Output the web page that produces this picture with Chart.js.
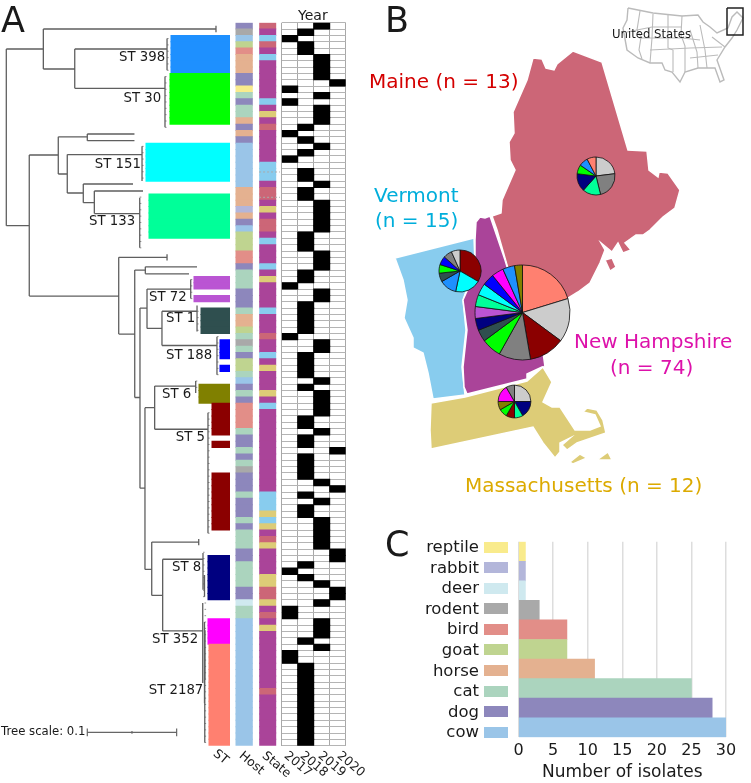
<!DOCTYPE html>
<html>
<head>
<meta charset="utf-8">
<title>Isolates by ST, host, state and year</title>
<script src="https://cdn.jsdelivr.net/npm/chart.js@4/dist/chart.umd.min.js"></script>
<style>
  html, body { margin: 0; padding: 0; background: #fff; }
  #page { position: relative; width: 751px; height: 783px; overflow: hidden; font-family: "DejaVu Sans", sans-serif; }
  #page canvas { position: absolute; }
  .lbl { position: absolute; white-space: nowrap; line-height: 1; color: #1a1a1a; }
</style>
</head>
<body>
<div id="page"></div>
<script>
// Host categories, panel C
const hostNames = ['reptile', 'rabbit', 'deer', 'rodent', 'bird', 'goat', 'horse', 'cat', 'dog', 'cow'];
const hostCodes = ['p', 'a', 'e', 'r', 'b', 'g', 'h', 'c', 'd', 'w'];
const hostCounts = [1, 1, 1, 3, 7, 7, 11, 25, 28, 30];
const hostColors = ['#f9eb8c', '#b3b6da', '#cfe9ef', '#a9a9a9', '#e28e88', '#bfd490', '#e4b190', '#abd4be', '#8d87bc', '#9ac5e8'];
const isolateTicks = [0, 5, 10, 15, 20, 25, 30];

// Metadata strips, run length per isolate from top to bottom of the tree
const hostRuns = ['d',1,'r',1,'w',1,'g',1,'b',1,'h',3,'d',2,'p',1,'c',1,'d',1,'c',2,'h',1,'d',1,'h',1,'d',1,'w',7,'h',3,'a',1,'h',1,'d',1,'w',1,'g',3,'b',2,
  'd',1,'c',3,'d',3,'c',1,'h',2,'g',1,'c',1,'r',1,'c',1,'d',1,'g',2,'c',1,'w',1,'d',1,'c',1,'d',1,'b',4,'c',1,'d',2,'c',1,'d',1,'c',1,'r',1,'d',3,'c',1,'d',3,
  'c',1,'d',1,'c',3,'d',2,'c',4,'d',2,'e',1,'c',2,'w',20];
const stateRuns = ['M',1,'N',1,'V',1,'M',1,'N',1,'V',1,'N',6,'V',1,'N',1,'A',1,'N',1,'M',1,'N',5,'V',3,'N',1,'M',2,'N',1,'A',1,'N',1,'M',2,'N',1,'V',1,'N',3,
  'V',1,'N',1,'A',1,'N',4,'V',1,'N',3,'M',1,'N',2,'V',1,'N',1,'A',1,'N',3,'A',1,'N',1,'V',1,'N',13,'V',3,'A',1,'V',1,'A',1,'N',1,'M',1,'A',1,'N',4,'A',2,'M',2,
  'A',1,'N',1,'M',1,'N',1,'A',1,'N',9,'M',1,'N',8];
const yearRuns = [2,1,1,1,0,1,1,2,2,4,3,1,0,1,2,1,0,1,2,3,1,1,0,1,1,1,2,1,1,1,0,1,-1,1,1,2,2,1,1,2,2,5,1,3,2,3,1,2,0,1,2,2,1,5,0,1,2,2,1,4,2,1,1,1,2,4,1,2,2,1,
  1,2,3,1,1,4,2,1,3,1,1,1,2,1,1,2,2,5,3,2,1,1,0,1,1,1,2,1,3,2,2,1,0,2,2,3,1,1,2,1,0,2,1,13];
const stRuns = [null,2,'398',6,'30',8,null,3,'151',6,null,2,'133',7,null,6,'72',2,null,1,'72',1,null,1,'1',4,null,1,'188',3,null,1,'188',1,null,2,'6',3,'5',5,null,1,'5',1,
  null,4,'5',9,null,4,'8',7,null,3,'352',4,'2187',16];

const stateCodes = ['M', 'N', 'V', 'A'];
const stateColors = ['#cc6677', '#aa4499', '#88ccee', '#ddcc77'];
const yearLabels = ['2017', '2018', '2019', '2020'];

// Sequence types, the band starts where the clade tips end
const stNames = ['398', '30', '151', '133', '72', '1', '188', '6', '5', '8', '352', '2187'];
const stColors = ['#1e90ff', '#00ff00', '#00ffff', '#00ff99', '#ba55d3', '#2f4f4f', '#0000ff', '#808000', '#8b0000', '#000080', '#ff00ff', '#ff8070'];
const stBandStart = [171, 170, 146, 149, 194, 201, 220, 199, 212, 208, 208, 209];
const stLabelX = [119, 123.5, 94.7, 89, 149, 166, 166, 162, 175.7, 172, 152, 148.7];
const stLabelY = [56.7, 98, 164, 221, 297, 318, 354.7, 394, 437, 567, 639, 690];

// Phylogeny, x in thousandths of tree distance, y in isolate rows
const treeV = [[0,3.65,31.5],[41.6,0.49,6.8],[235.6,0,1],[76.9,3.65,9.84],[180.6,2,7],[178.3,8,16],
  [25.8,20.36,42.6],[58.4,17.5,23.36],[91,17.05,18.1],[68.5,20.3,26.35],[152.5,19,24.46],[86.5,24.93,27.88],[98.9,26.04,29.6],[149.9,27.1,35],
  [126.3,36.5,48.6],[180.6,36,37],[144.3,38.5,58.6],[156.2,38,39.1],[150.2,44.5,72.9],[158.1,41.5,47.7],[207.2,40,43],[174.9,45,50.4],[214.3,44.1,48.2],[236.7,49,55],
  [155.8,60.2,85.7],[166.7,56.8,63.6],[212.8,56,57.9],[226.6,61,80],[163.4,81.4,89.8],[216.2,80.9,81.9],[175.7,84.1,95.4],[221,83.1,88.9],[222.7,86.6,90],
  [220.7,91,103.6],[222.7,94,106.8],[223.3,95.3,103.1],[223,103,113]];
const treeH = [[3.65,0,41.6],[31.5,0,25.8],[0.49,41.6,235.6],[6.8,41.6,76.9],[3.65,76.9,180.6],[9.84,76.9,178.3],
  [20.36,25.8,58.4],[42.6,25.8,126.3],[17.5,58.4,91],[23.36,58.4,68.5],[17.05,91,144],[18.1,91,144],[20.3,68.5,152.5],[26.35,68.5,86.5],[24.93,86.5,142.4],[27.88,86.5,98.9],[26.04,98.9,153.6],[29.6,98.9,149.9],
  [36.5,126.3,180.6],[48.6,126.3,144.3],[38.5,144.3,156.2],[58.6,144.3,150.2],[38,156.2,214.3],[39.1,156.2,205.3],[44.5,150.2,158.1],[72.9,150.2,155.8],[41.5,158.1,207.2],[47.7,158.1,174.9],
  [45,174.9,214.3],[50.4,174.9,236.7],[60.2,155.8,166.7],[85.7,155.8,163.4],[56.8,166.7,212.8],[63.6,166.7,226.6],[81.4,163.4,216.2],[89.8,163.4,175.7],[84.1,175.7,220.7],[95.4,175.7,220.7]];
const tipClades = [[180.6,2,7],[178.3,8,16],[152.5,19,24],[149.9,27,35],[207.2,40,43],[214.3,45,48],[236.7,49,55],[212.8,56,57],[226.6,61,80],[221,83,90],[222.7,91,113]];
const scaleBarH = [[111.4,91,191.4]];
const scaleBarV = [[91,110.8,112],[141.2,111.2,111.6],[191.4,110.8,112]];

// ST mix per state, clockwise from the top
const nhCounts = [15, 11, 9, 8, 5, 3, 3, 3, 3, 3, 3, 3, 3, 2];
const nhColors = ['#ff8070', '#cccccc', '#8b0000', '#808080', '#00ff00', '#2f4f4f', '#000080', '#ba55d3', '#00ff99', '#00ffff', '#0000ff', '#ff00ff', '#1e90ff', '#808000'];
const vtCounts = [5, 3, 2, 1, 1, 1, 1, 1];
const vtColors = ['#8b0000', '#00ffff', '#1e90ff', '#2f4f4f', '#00ff00', '#0000ff', '#808080', '#cccccc'];
const meCounts = [3, 3, 2, 2, 1, 1, 1];
const meColors = ['#cccccc', '#808080', '#00ff99', '#000080', '#00ff00', '#1e90ff', '#ff8070'];
const maCounts = [3, 2, 1, 1, 1, 1, 2, 1];
const maColors = ['#cccccc', '#000080', '#00ff99', '#8b0000', '#00ff00', '#808000', '#ff00ff', '#808080'];

// Map outlines, in map units of the figure
const maineShape = [[533,58],[542,59],[546,68],[554,70],[557,64],[573,51],[602,62],[628,150],[647,151],[649,170],[658,177],[659,172],[668,173],[680,190],[675,208],[663,217],[650,230],[643,235],[636,235],[625,243],[631,250],[623,253],[618,243],[612,252],[601,243],[605,250],[600,263],[590,283],[578,292],[568,298],[540,330],[520,310],[507,265],[497,230],[492,216],[501,213],[502,200],[515,170],[510,160],[509,142],[514,133],[513,112],[527,80],[533,58]];
const maineIsland = [[605,260],[612,258],[616,267],[610,271],[605,260]];
const nhShape = [[476,222],[480,217],[485,218],[490,216],[505,260],[520,310],[540,330],[545,367],[542,367],[527,374],[527,379],[467,394],[464,387],[463,367],[467,330],[463,300],[475,273],[475,240],[476,222]];
const vtShape = [[395,258],[474,238],[475,263],[470,280],[463,300],[466,330],[462,367],[465,395],[433,399],[428,373],[423,353],[413,348],[413,338],[404,318],[407,300],[403,280],[395,258]];
const maShape = [[431,403],[465,397],[527,381],[543,367],[552,382],[543,402],[552,407],[560,407],[575,430],[590,430],[600,426],[595,415],[583,412],[587,408],[597,410],[603,420],[606,433],[577,443],[567,450],[562,445],[570,438],[560,443],[560,452],[555,458],[543,443],[533,427],[431,449],[430,430],[431,403]];
const vineyardShape = [[570,462],[580,454],[587,458],[573,464],[570,462]];
const nantucketShape = [[597,460],[608,452],[612,460],[597,460]];
const usBorder = [[628,8],[627,20],[623,28],[627,50],[638,58],[650,63],[662,63],[665,70],[672,72],[680,82],[685,72],[698,68],[715,68],[720,82],[724,80],[717,60],[725,47],[732,38],[737,30],[743,18],[737,12],[732,17],[728,28],[717,33],[710,27],[703,22],[698,15],[682,16],[653,13],[628,8]];
const usStateLines = [
  [[640,11],[637,30],[641,37],[639,50],[642,59]],
  [[653,14],[652,38],[650,63]],
  [[668,15],[668,48],[673,50],[673,72]],
  [[682,16],[681,35],[685,46],[685,72]],
  [[627,32],[652,27],[682,27]],
  [[639,38],[682,38],[700,40]],
  [[650,50],[690,48],[722,47]],
  [[690,30],[697,52],[698,68]],
  [[700,25],[705,50],[707,68]],
  [[712,37],[725,47]],
  [[690,58],[718,55]]
];
const usInsetBox = [[727,8],[743,8],[743,35],[727,35],[727,8]];

const page = document.getElementById('page');
Chart.defaults.font.family = '"DejaVu Sans", sans-serif';
Chart.defaults.animation = false;
Chart.defaults.events = [];
Chart.defaults.plugins.legend.display = false;
Chart.defaults.plugins.tooltip.enabled = false;

function expand(runs) {
    const out = [];
    for (let i = 0; i < runs.length; i += 2) {
        for (let k = 0; k < runs[i + 1]; k++) out.push(runs[i]);
    }
    return out;
}

function addCanvas(left, top, width, height) {
    const canvas = document.createElement('canvas');
    canvas.width = width;
    canvas.height = height;
    canvas.style.left = left + 'px';
    canvas.style.top = top + 'px';
    canvas.style.width = width + 'px';
    canvas.style.height = height + 'px';
    page.appendChild(canvas);
    return canvas;
}

function addLabel(text, x, y, size, color, rotate) {
    const el = document.createElement('div');
    el.className = 'lbl';
    el.textContent = text;
    el.style.left = x + 'px';
    el.style.top = y + 'px';
    el.style.fontSize = size + 'px';
    if (color) el.style.color = color;
    el.style.transform = rotate ? 'rotate(' + rotate + 'deg)' : 'translateY(-50%)';
    el.style.transformOrigin = 'left top';
    page.appendChild(el);
    return el;
}

const hostRows = expand(hostRuns);
const stateRows = expand(stateRuns);
const yearRows = expand(yearRuns);
const stRows = expand(stRuns);
const rowLabels = hostRows.map((_, i) => i);

// Panel A, ST, host and state strips
const rowTop = 22.7, rowBottom = 745.7;
const hostEdges = [236, 252.3];
const stateEdges = [259.7, 275.7];
const stRight = 229.5;

new Chart(addCanvas(0, 0, 281, 783), {
    type: 'bar',
    data: {
        labels: rowLabels,
        datasets: [
            {
                data: stRows.map(s => s === null ? null : [stBandStart[stNames.indexOf(s)], stRight]),
                backgroundColor: stRows.map(s => stColors[stNames.indexOf(s)]),
                inflateAmount: 0.5
            },
            {
                data: rowLabels.map(() => hostEdges),
                backgroundColor: hostRows.map(h => hostColors[hostCodes.indexOf(h)]),
                inflateAmount: 0.5
            },
            {
                data: rowLabels.map(() => stateEdges),
                backgroundColor: stateRows.map(s => stateColors[stateCodes.indexOf(s)]),
                inflateAmount: 0.5
            }
        ]
    },
    options: {
        responsive: false,
        indexAxis: 'y',
        layout: { padding: { top: rowTop, bottom: 783 - rowBottom } },
        datasets: { bar: { grouped: false, barPercentage: 1, categoryPercentage: 1 } },
        scales: {
            x: { type: 'linear', display: false, min: 0, max: 281 },
            y: { display: false }
        }
    }
});

// Panel A, year matrix with one column per year, the cell lines are the axis grid
new Chart(addCanvas(280, 0, 68, 783), {
    type: 'bar',
    data: {
        labels: rowLabels,
        datasets: [{
            data: yearRows.map(y => y < 0 ? null : [y, y + 1]),
            backgroundColor: '#000000',
            inflateAmount: 0.5
        }]
    },
    options: {
        responsive: false,
        indexAxis: 'y',
        layout: { padding: { left: 1.7, right: 2.3, top: rowTop, bottom: 783 - rowBottom } },
        datasets: { bar: { barPercentage: 1, categoryPercentage: 1 } },
        scales: {
            x: {
                type: 'linear',
                min: 0,
                max: 4,
                border: { display: false },
                grid: { color: '#a8a8a8', lineWidth: 1, drawTicks: false },
                ticks: { display: false, stepSize: 1 }
            },
            y: {
                border: { display: false },
                grid: { color: '#b4b4b4', lineWidth: 1, drawTicks: false, offset: true },
                ticks: { display: false, autoSkip: false }
            }
        }
    }
});

// Panel A, tree drawn on top of the strips
function toPath(vertical, horizontal) {
    const pts = [];
    vertical.forEach(v => pts.push({ x: v[0], y: v[1] }, { x: v[0], y: v[2] }, { x: NaN, y: NaN }));
    horizontal.forEach(h => pts.push({ x: h[1], y: h[0] }, { x: h[2], y: h[0] }, { x: NaN, y: NaN }));
    return pts;
}
const tipTicks = [];
tipClades.forEach(c => {
    for (let r = c[1]; r <= c[2]; r++) tipTicks.push([r, c[0], c[0] + 1.8]);
});

new Chart(addCanvas(0, 0, 351, 783), {
    type: 'scatter',
    data: {
        datasets: [
            { data: toPath(treeV, treeH), borderColor: '#5f5f5f', borderWidth: 1.3 },
            { data: toPath([], tipTicks), borderColor: '#777777', borderWidth: 0.8 },
            { data: toPath(scaleBarV, scaleBarH), borderColor: '#666666', borderWidth: 1.2 },
            { data: toPath([], [[23.04, 284, 307.5], [27.03, 284, 307.5]]), borderColor: '#aaaaaa', borderWidth: 1, borderDash: [2, 2] }
        ]
    },
    options: {
        responsive: false,
        layout: { padding: { top: rowTop, bottom: 783 - rowBottom } },
        datasets: { scatter: { showLine: true, spanGaps: false, pointRadius: 0 } },
        scales: {
            x: { type: 'linear', display: false, min: -7.08, max: 387.3 },
            y: { type: 'linear', display: false, reverse: true, min: -0.5, max: 113.5 }
        }
    }
});

// Panel B, map
function shapeSet(points, color) {
    return {
        data: points.map(p => ({ x: p[0], y: p[1] })),
        backgroundColor: color,
        borderColor: '#ffffff',
        borderWidth: 1.5,
        fill: 'shape'
    };
}
function lineSet(points, color, width) {
    return { data: points.map(p => ({ x: p[0], y: p[1] })), borderColor: color, borderWidth: width, fill: false };
}

new Chart(addCanvas(370, 0, 381, 520), {
    type: 'scatter',
    data: {
        datasets: [
            lineSet(usInsetBox, '#222222', 1.5),
            lineSet(usBorder, '#bbbbbb', 1.4),
            ...usStateLines.map(l => lineSet(l, '#bbbbbb', 1.1)),
            shapeSet(maShape, stateColors[3]),
            shapeSet(vineyardShape, stateColors[3]),
            shapeSet(nantucketShape, stateColors[3]),
            shapeSet(nhShape, stateColors[1]),
            shapeSet(vtShape, stateColors[2]),
            shapeSet(maineIsland, stateColors[0]),
            shapeSet(maineShape, stateColors[0])
        ]
    },
    options: {
        responsive: false,
        datasets: { scatter: { showLine: true, pointRadius: 0, tension: 0 } },
        scales: {
            x: { type: 'linear', display: false, min: 370, max: 751 },
            y: { type: 'linear', display: false, reverse: true, min: 0, max: 520 }
        }
    }
});

function addPie(cx, cy, r, counts, colors) {
    const size = Math.ceil(r * 2 + 4);
    new Chart(addCanvas(cx - size / 2, cy - size / 2, size, size), {
        type: 'pie',
        data: { datasets: [{ data: counts, backgroundColor: colors, borderColor: '#111111', borderWidth: 0.8, borderAlign: 'center' }] },
        options: { responsive: false, radius: r }
    });
}
addPie(522, 312, 47.5, nhCounts, nhColors);
addPie(459.7, 270.7, 21, vtCounts, vtColors);
addPie(596.3, 175.7, 19, meCounts, meColors);
addPie(514, 401.7, 16.4, maCounts, maColors);

// Panel C, bars
new Chart(addCanvas(380, 520, 371, 263), {
    type: 'bar',
    data: {
        labels: hostNames,
        datasets: [{ data: hostCounts, backgroundColor: hostColors, barPercentage: 1, categoryPercentage: 1 }]
    },
    options: {
        responsive: false,
        indexAxis: 'y',
        layout: { padding: { left: 138.5, right: 25, top: 21.7, bottom: 0 } },
        scales: {
            y: { display: false },
            x: {
                type: 'linear',
                min: 0,
                max: 30,
                afterBuildTicks: axis => { axis.ticks = isolateTicks.map(v => ({ value: v })); },
                afterFit: axis => { axis.height = 45.7; },
                border: { display: false },
                grid: { color: '#dddddd', lineWidth: 1.5, drawTicks: false },
                ticks: { color: '#1a1a1a', font: { size: 16 }, padding: 4, maxRotation: 0 },
                title: { display: true, text: 'Number of isolates', color: '#1a1a1a', font: { size: 17 }, padding: { top: 3, bottom: 0 } }
            }
        }
    }
});

// Legend of panel C, it has its own spacing next to the bars
hostNames.forEach((name, i) => {
    const top = 541.7 + i * 20.55;
    const swatch = document.createElement('div');
    swatch.style.cssText = 'position:absolute;left:484px;width:24px;height:11px;top:' + top + 'px;background:' + hostColors[i];
    page.appendChild(swatch);
    const el = addLabel(name, 0, top + 5.5, 16.5);
    el.style.left = 'auto';
    el.style.right = (751 - 479) + 'px';
});

// Text of panels A and B
addLabel('A', 1, 20, 35);
addLabel('B', 385, 20, 35);
addLabel('C', 385, 544, 35);
addLabel('Year', 298, 15, 14);
stNames.forEach((name, i) => addLabel('ST ' + name, stLabelX[i], stLabelY[i], 13.3));
addLabel('Tree scale: 0.1', 1, 732, 11.7);
addLabel('ST', 219, 747, 12.5, null, 40);
addLabel('Host', 245, 749, 12.5, null, 40);
addLabel('State', 268, 749, 12.5, null, 40);
const yearHeaderX = [290, 306, 324, 343];
yearLabels.forEach((year, i) => addLabel(year, yearHeaderX[i], 749, 12.5, null, 40));
addLabel('United States', 612, 35, 11.7);
addLabel('Maine (n = 13)', 369, 81, 20, '#d40000');
addLabel('Vermont', 374, 195, 20, '#00aedb');
addLabel('(n = 15)', 375, 220, 20, '#00aedb');
addLabel('New Hampshire', 574, 341, 20, '#dd11aa');
addLabel('(n = 74)', 610, 367, 20, '#dd11aa');
addLabel('Massachusetts (n = 12)', 465, 485, 20, '#dcaa00');
</script>
</body>
</html>
